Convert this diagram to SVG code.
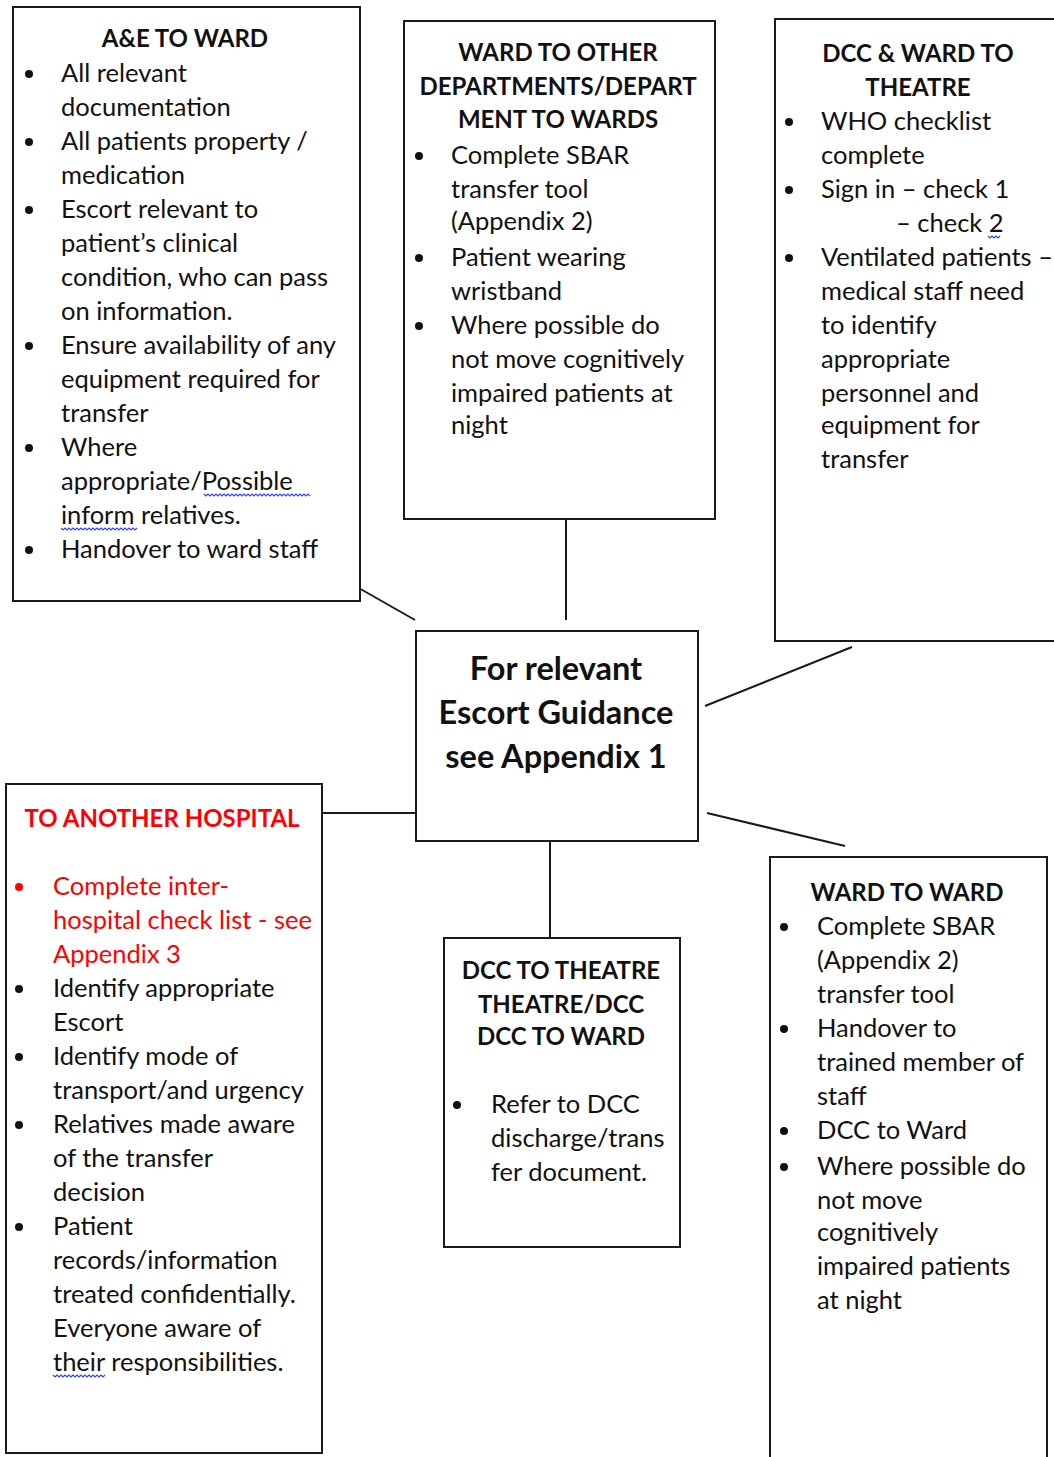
<svg xmlns="http://www.w3.org/2000/svg" width="1054" height="1457" viewBox="0 0 1054 1457">
<style>
.box{fill:#fff;stroke:#1a1a1a;stroke-width:2}
.t{font-family:Lato,"Liberation Sans",sans-serif;font-size:25.5px;fill:#111}
.h{font-family:Lato,"Liberation Sans",sans-serif;font-size:24px;font-weight:bold;fill:#111;text-anchor:middle}
.c{font-family:Lato,"Liberation Sans",sans-serif;font-size:32.5px;font-weight:bold;fill:#111;text-anchor:middle}
.red{fill:#ff0000}
.b{fill:#111}
.rb{fill:#ff0000}
.conn line{stroke:#1a1a1a;stroke-width:2}
.sq{fill:none;stroke:#3344ee;stroke-width:1.2}
</style>
<rect width="1054" height="1457" fill="#fff"/>
<g id="connectors" class="conn">
<line x1="357" y1="587" x2="415" y2="620"/>
<line x1="566" y1="518" x2="566" y2="620"/>
<line x1="705" y1="706" x2="852" y2="647"/>
<line x1="322" y1="813" x2="417" y2="813"/>
<line x1="550" y1="838" x2="550" y2="938"/>
<line x1="707" y1="813" x2="845" y2="846"/>
</g>
<g id="ae-to-ward">
<rect class="box" x="13" y="7" width="347" height="594"/>
<text class="h" x="185" y="47">A&amp;E TO WARD</text>
<circle class="b" cx="29" cy="74" r="4"/>
<circle class="b" cx="29" cy="142" r="4"/>
<circle class="b" cx="29" cy="210" r="4"/>
<circle class="b" cx="29" cy="346" r="4"/>
<circle class="b" cx="29" cy="448" r="4"/>
<circle class="b" cx="29" cy="550" r="4"/>
<text class="t" x="61" y="82">All relevant</text>
<text class="t" x="61" y="116">documentation</text>
<text class="t" x="61" y="150">All patients property /</text>
<text class="t" x="61" y="184">medication</text>
<text class="t" x="61" y="218">Escort relevant to</text>
<text class="t" x="61" y="252">patient’s clinical</text>
<text class="t" x="61" y="286">condition, who can pass</text>
<text class="t" x="61" y="320">on information.</text>
<text class="t" x="61" y="354">Ensure availability of any</text>
<text class="t" x="61" y="388">equipment required for</text>
<text class="t" x="61" y="422">transfer</text>
<text class="t" x="61" y="456">Where</text>
<text class="t" x="61" y="490">appropriate/Possible</text>
<text class="t" x="61" y="524">inform relatives.</text>
<text class="t" x="61" y="558">Handover to ward staff</text>
<path class="sq" d="M204 494 l2 2 l2 -2 l2 2 l2 -2 l2 2 l2 -2 l2 2 l2 -2 l2 2 l2 -2 l2 2 l2 -2 l2 2 l2 -2 l2 2 l2 -2 l2 2 l2 -2 l2 2 l2 -2 l2 2 l2 -2 l2 2 l2 -2 l2 2 l2 -2 l2 2 l2 -2 l2 2 l2 -2 l2 2 l2 -2 l2 2 l2 -2 l2 2 l2 -2 l2 2 l2 -2 l2 2 l2 -2 l2 2 l2 -2 l2 2 l2 -2 l2 2 l2 -2 l2 2 l2 -2 l2 2 l2 -2 l2 2 l2 -2 l2 2"/>
<path class="sq" d="M61 528 l2 2 l2 -2 l2 2 l2 -2 l2 2 l2 -2 l2 2 l2 -2 l2 2 l2 -2 l2 2 l2 -2 l2 2 l2 -2 l2 2 l2 -2 l2 2 l2 -2 l2 2 l2 -2 l2 2 l2 -2 l2 2 l2 -2 l2 2 l2 -2 l2 2 l2 -2 l2 2 l2 -2 l2 2 l2 -2 l2 2 l2 -2 l2 2 l2 -2 l2 2 l2 -2"/>
</g>
<g id="ward-to-other">
<rect class="box" x="404" y="21" width="311" height="498"/>
<text class="h" x="558" y="61">WARD TO OTHER</text>
<text class="h" x="558" y="95">DEPARTMENTS/DEPART</text>
<text class="h" x="558" y="128">MENT TO WARDS</text>
<circle class="b" cx="419" cy="156" r="4"/>
<circle class="b" cx="419" cy="258" r="4"/>
<circle class="b" cx="419" cy="326" r="4"/>
<text class="t" x="451" y="164">Complete SBAR</text>
<text class="t" x="451" y="198">transfer tool</text>
<text class="t" x="451" y="230">(Appendix 2)</text>
<text class="t" x="451" y="266">Patient wearing</text>
<text class="t" x="451" y="300">wristband</text>
<text class="t" x="451" y="334">Where possible do</text>
<text class="t" x="451" y="368">not move cognitively</text>
<text class="t" x="451" y="402">impaired patients at</text>
<text class="t" x="451" y="434">night</text>
</g>
<g id="dcc-ward-to-theatre">
<rect class="box" x="775" y="19" width="290" height="622"/>
<text class="h" x="918" y="62">DCC &amp; WARD TO</text>
<text class="h" x="918" y="96">THEATRE</text>
<circle class="b" cx="789" cy="122" r="4"/>
<circle class="b" cx="789" cy="190" r="4"/>
<circle class="b" cx="789" cy="258" r="4"/>
<text class="t" x="821" y="130">WHO checklist</text>
<text class="t" x="821" y="164">complete</text>
<text class="t" x="821" y="198">Sign in – check 1</text>
<text class="t" x="896" y="232">– check 2</text>
<text class="t" x="821" y="266">Ventilated patients –</text>
<text class="t" x="821" y="300">medical staff need</text>
<text class="t" x="821" y="334">to identify</text>
<text class="t" x="821" y="368">appropriate</text>
<text class="t" x="821" y="402">personnel and</text>
<text class="t" x="821" y="434">equipment for</text>
<text class="t" x="821" y="468">transfer</text>
<path class="sq" d="M988 236 l2 2 l2 -2 l2 2 l2 -2 l2 2 l2 -2"/>
</g>
<g id="center">
<rect class="box" x="416" y="631" width="282" height="210"/>
<text class="c" x="556" y="680">For relevant</text>
<text class="c" x="556" y="724">Escort Guidance</text>
<text class="c" x="556" y="768">see Appendix 1</text>
</g>
<g id="to-another-hospital">
<rect class="box" x="6" y="784" width="316" height="669"/>
<text class="h red" x="162" y="827">TO ANOTHER HOSPITAL</text>
<circle class="rb" cx="19" cy="887" r="4"/>
<circle class="b" cx="19" cy="989" r="4"/>
<circle class="b" cx="19" cy="1057" r="4"/>
<circle class="b" cx="19" cy="1125" r="4"/>
<circle class="b" cx="19" cy="1227" r="4"/>
<text class="t red" x="53" y="895">Complete inter-</text>
<text class="t red" x="53" y="929">hospital check list - see</text>
<text class="t red" x="53" y="963">Appendix 3</text>
<text class="t" x="53" y="997">Identify appropriate</text>
<text class="t" x="53" y="1031">Escort</text>
<text class="t" x="53" y="1065">Identify mode of</text>
<text class="t" x="53" y="1099">transport/and urgency</text>
<text class="t" x="53" y="1133">Relatives made aware</text>
<text class="t" x="53" y="1167">of the transfer</text>
<text class="t" x="53" y="1201">decision</text>
<text class="t" x="53" y="1235">Patient</text>
<text class="t" x="53" y="1269">records/information</text>
<text class="t" x="53" y="1303">treated confidentially.</text>
<text class="t" x="53" y="1337">Everyone aware of</text>
<text class="t" x="53" y="1371">their responsibilities.</text>
<path class="sq" d="M53 1375 l2 2 l2 -2 l2 2 l2 -2 l2 2 l2 -2 l2 2 l2 -2 l2 2 l2 -2 l2 2 l2 -2 l2 2 l2 -2 l2 2 l2 -2 l2 2 l2 -2 l2 2 l2 -2 l2 2 l2 -2 l2 2 l2 -2 l2 2 l2 -2"/>
</g>
<g id="dcc-to-theatre">
<rect class="box" x="444" y="938" width="236" height="309"/>
<text class="h" x="561" y="979">DCC TO THEATRE</text>
<text class="h" x="561" y="1013">THEATRE/DCC</text>
<text class="h" x="561" y="1045">DCC TO WARD</text>
<circle class="b" cx="457" cy="1105" r="4"/>
<text class="t" x="491" y="1113">Refer to DCC</text>
<text class="t" x="491" y="1147">discharge/trans</text>
<text class="t" x="491" y="1181">fer document.</text>
</g>
<g id="ward-to-ward">
<rect class="box" x="770" y="857" width="277" height="620"/>
<text class="h" x="907" y="901">WARD TO WARD</text>
<circle class="b" cx="784" cy="927" r="4"/>
<circle class="b" cx="784" cy="1029" r="4"/>
<circle class="b" cx="784" cy="1131" r="4"/>
<circle class="b" cx="784" cy="1167" r="4"/>
<text class="t" x="817" y="935">Complete SBAR</text>
<text class="t" x="817" y="969">(Appendix 2)</text>
<text class="t" x="817" y="1003">transfer tool</text>
<text class="t" x="817" y="1037">Handover to</text>
<text class="t" x="817" y="1071">trained member of</text>
<text class="t" x="817" y="1105">staff</text>
<text class="t" x="817" y="1139">DCC to Ward</text>
<text class="t" x="817" y="1175">Where possible do</text>
<text class="t" x="817" y="1209">not move</text>
<text class="t" x="817" y="1241">cognitively</text>
<text class="t" x="817" y="1275">impaired patients</text>
<text class="t" x="817" y="1309">at night</text>
</g>
</svg>
